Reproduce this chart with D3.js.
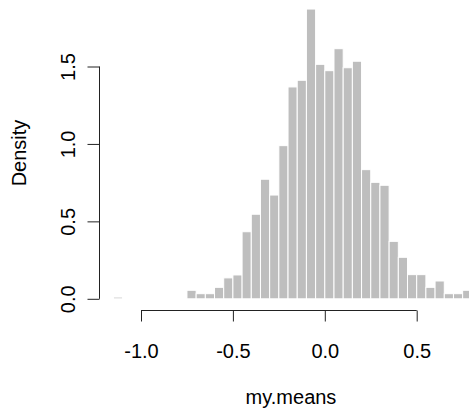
<!DOCTYPE html>
<html><head><meta charset="utf-8">
<script src="https://cdn.jsdelivr.net/npm/d3@7"></script>
<style>html,body{margin:0;padding:0;background:#fff;}svg{display:block;}</style>
</head><body>
<svg id="chart" width="469" height="413"></svg>
<script>
// histogram bins (left edges) and densities, bin width 0.05
const binWidth = 0.05;
const binStarts = [-1.15, -0.75, -0.70, -0.65, -0.60, -0.55, -0.50, -0.45, -0.40, -0.35, -0.30,
  -0.25, -0.20, -0.15, -0.10, -0.05, 0.00, 0.05, 0.10, 0.15, 0.20, 0.25, 0.30, 0.35, 0.40,
  0.45, 0.50, 0.55, 0.60, 0.65, 0.70, 0.75];
const densities = [0.011, 0.055, 0.033, 0.033, 0.074, 0.135, 0.154, 0.433, 0.546, 0.772, 0.670,
  0.989, 1.368, 1.411, 1.871, 1.514, 1.473, 1.615, 1.492, 1.534, 0.834, 0.752, 0.733, 0.371, 0.268,
  0.156, 0.156, 0.074, 0.115, 0.033, 0.033, 0.055];
const xTicks = [-1.0, -0.5, 0.0, 0.5];
const yTicks = [0.0, 0.5, 1.0, 1.5];
const xLabel = "my.means";
const yLabel = "Density";

const svg = d3.select("#chart");
const font = "'Liberation Sans', Arial, sans-serif";
const fmt = d => d.toFixed(1);

const x = d3.scaleLinear().domain([-1.0, 0.5]).range([141, 416.7]);
const y = d3.scaleLinear().domain([0, 1.5]).range([298.8, 66.5]);

const bins = binStarts.map((s, i) => ({x0: s, x1: s + binWidth, d: densities[i]}));

svg.append("g").selectAll("rect").data(bins).join("rect")
  .attr("x", d => x(d.x0))
  .attr("width", d => x(d.x1) - x(d.x0))
  .attr("y", d => y(d.d))
  .attr("height", d => y(0) - y(d.d))
  .attr("fill", "#bebebe")
  .attr("stroke", "#ffffff")
  .attr("stroke-width", 1);

// x axis
const gx = svg.append("g").attr("transform", "translate(0,310.5)")
  .call(d3.axisBottom(x).tickValues(xTicks).tickFormat(fmt).tickSize(11).tickSizeOuter(0));
gx.select(".domain").attr("stroke", "#222").attr("d", `M${x(-1.0)},0H${x(0.5)}`);
gx.selectAll(".tick line").attr("stroke", "#222");
gx.selectAll(".tick text").attr("font-family", font).attr("font-size", 20).attr("fill", "#000")
  .attr("y", 0).attr("dy", 0).attr("transform", "translate(0,47.5)");

// y axis
const gy = svg.append("g").attr("transform", "translate(99.5,0)")
  .call(d3.axisLeft(y).tickValues(yTicks).tickFormat(fmt).tickSize(12).tickSizeOuter(0));
gy.select(".domain").attr("stroke", "#222").attr("d", `M0,${y(0)}V${y(1.5)}`);
gy.selectAll(".tick line").attr("stroke", "#222");
gy.selectAll(".tick text").attr("font-family", font).attr("font-size", 20).attr("fill", "#000")
  .attr("x", 0).attr("dy", 0).attr("text-anchor", "middle")
  .attr("transform", "translate(-24.5,0) rotate(-90)");

// axis titles
svg.append("text").attr("x", 291).attr("y", 404).attr("text-anchor", "middle")
  .attr("font-family", font).attr("font-size", 20).attr("fill", "#000").text(xLabel);
svg.append("text").attr("transform", "translate(25.5,153) rotate(-90)").attr("text-anchor", "middle")
  .attr("font-family", font).attr("font-size", 20).attr("fill", "#000").text(yLabel);
</script>
</body></html>
